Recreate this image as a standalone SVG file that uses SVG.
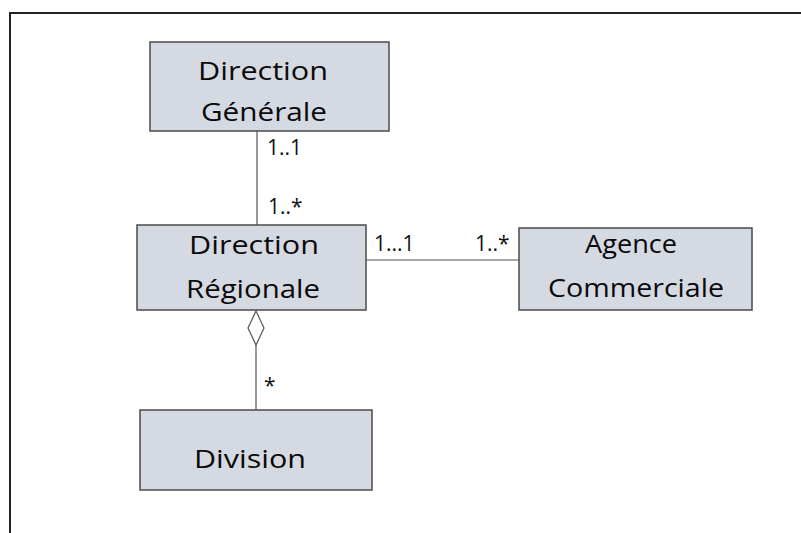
<svg xmlns="http://www.w3.org/2000/svg" width="801" height="533" viewBox="0 0 801 533">
  <style>
    .cls { fill: #d5d9e2; stroke: #4a4a4a; stroke-width: 1.5; }
    .name { font-family: "Comic Sans MS", "Open Sans", "DejaVu Sans", sans-serif; font-size: 25px; fill: #0a0a0a; text-anchor: middle; }
    .mult { font-family: "Open Sans", "DejaVu Sans", sans-serif; font-size: 21px; fill: #111; }
    .link { stroke: #555; stroke-width: 1.2; fill: none; }
  </style>
  <rect width="801" height="533" fill="#ffffff"/>
  <!-- outer frame -->
  <path d="M10 533 V13 H801" fill="none" stroke="#222" stroke-width="2"/>

  <g id="connectors">
    <line class="link" x1="257" y1="131" x2="257" y2="225"/>
    <line class="link" x1="366" y1="260" x2="519" y2="260"/>
    <line class="link" x1="256" y1="345" x2="256" y2="410"/>
    <path class="link" d="M256 311 L264 328 L256 345 L248 328 Z" fill="#fff"/>
    <text class="mult" x="267" y="155">1..1</text>
    <text class="mult" x="268" y="214">1..*</text>
    <text class="mult" x="374" y="251">1...1</text>
    <text class="mult" x="475" y="251">1..*</text>
    <text class="mult" x="264" y="393">*</text>
  </g>

  <g id="direction-generale">
    <rect class="cls" x="150" y="42" width="239" height="89"/>
    <text class="name" x="263" y="80" textLength="130" lengthAdjust="spacingAndGlyphs">Direction</text>
    <text class="name" x="264" y="121" textLength="126" lengthAdjust="spacingAndGlyphs">Générale</text>
  </g>

  <g id="direction-regionale">
    <rect class="cls" x="137" y="225" width="229" height="85"/>
    <text class="name" x="254" y="254" textLength="130" lengthAdjust="spacingAndGlyphs">Direction</text>
    <text class="name" x="253" y="298" textLength="134" lengthAdjust="spacingAndGlyphs">Régionale</text>
  </g>

  <g id="agence-commerciale">
    <rect class="cls" x="519" y="228" width="233" height="82"/>
    <text class="name" x="631" y="253" textLength="92" lengthAdjust="spacingAndGlyphs">Agence</text>
    <text class="name" x="636" y="297" textLength="176" lengthAdjust="spacingAndGlyphs">Commerciale</text>
  </g>

  <g id="division">
    <rect class="cls" x="140" y="410" width="232" height="80"/>
    <text class="name" x="250" y="468" textLength="112" lengthAdjust="spacingAndGlyphs">Division</text>
  </g>
</svg>
